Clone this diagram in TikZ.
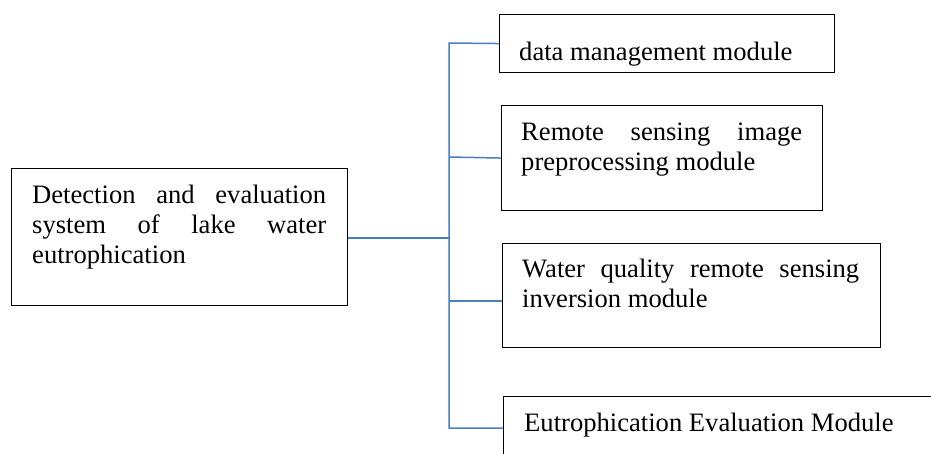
\documentclass[tikz,border=0pt]{standalone}
\usepackage{fontspec}
\setmainfont{Liberation Serif}
\definecolor{linkblue}{HTML}{4A7EC2}
\hyphenpenalty=10000
\exhyphenpenalty=10000
\tolerance=10000
\begin{document}
\begin{tikzpicture}[x=1pt,y=-1pt,
  box/.style={draw=black,line width=1.1pt,rectangle,inner sep=0pt,anchor=north west},
  label/.style={inner sep=0pt,anchor=north west,align=justify,
     font=\fontsize{26.6}{30}\selectfont},
  conn/.style={draw=linkblue,line width=1.5pt}]
\useasboundingbox (0,0) rectangle (931,454);
\clip (0,0) rectangle (931,454);
% boxes
\node[box,minimum width=336pt,minimum height=137pt] (main) at (11,168) {};
\node[box,minimum width=335pt,minimum height=58pt] (b1) at (499,14) {};
\node[box,minimum width=321pt,minimum height=105pt] (b2) at (501,105) {};
\node[box,minimum width=378pt,minimum height=104pt] (b3) at (502,243) {};
\node[box,minimum width=460pt,minimum height=120pt] (b4) at (503,396) {};
% texts
\node[label,text width=294pt] (tmain) at (32,182) {\strut Detection and evaluation system of lake water eutrophication};
\node[label,text width=300pt] (t1) at (519,39) {\strut data management module};
\node[label,text width=281pt] (t2) at (521,119) {\strut Remote sensing image preprocessing module};
\node[label,text width=337pt] (t3) at (522,256) {\strut Water quality remote sensing inversion module};
\node[label,text width=400pt] (t4) at (524,410) {\strut Eutrophication Evaluation Module};
% connectors
\coordinate (top) at (449,43);
\coordinate (bot) at (449,428);
\coordinate (j0) at (449,238);
\coordinate (j2) at (449,157);
\coordinate (j3) at (449,301);
\coordinate (e0) at (347,238);
\coordinate (e3) at (502,301);
\coordinate (e4) at (503,428);
\draw[conn] (b1.west) -- (top) -- (bot) -- (e4);
\draw[conn] (main.east|-e0) -- (j0);
\draw[conn] (b2.west) -- (j2);
\draw[conn] (e3) -- (j3);
\end{tikzpicture}
\end{document}
